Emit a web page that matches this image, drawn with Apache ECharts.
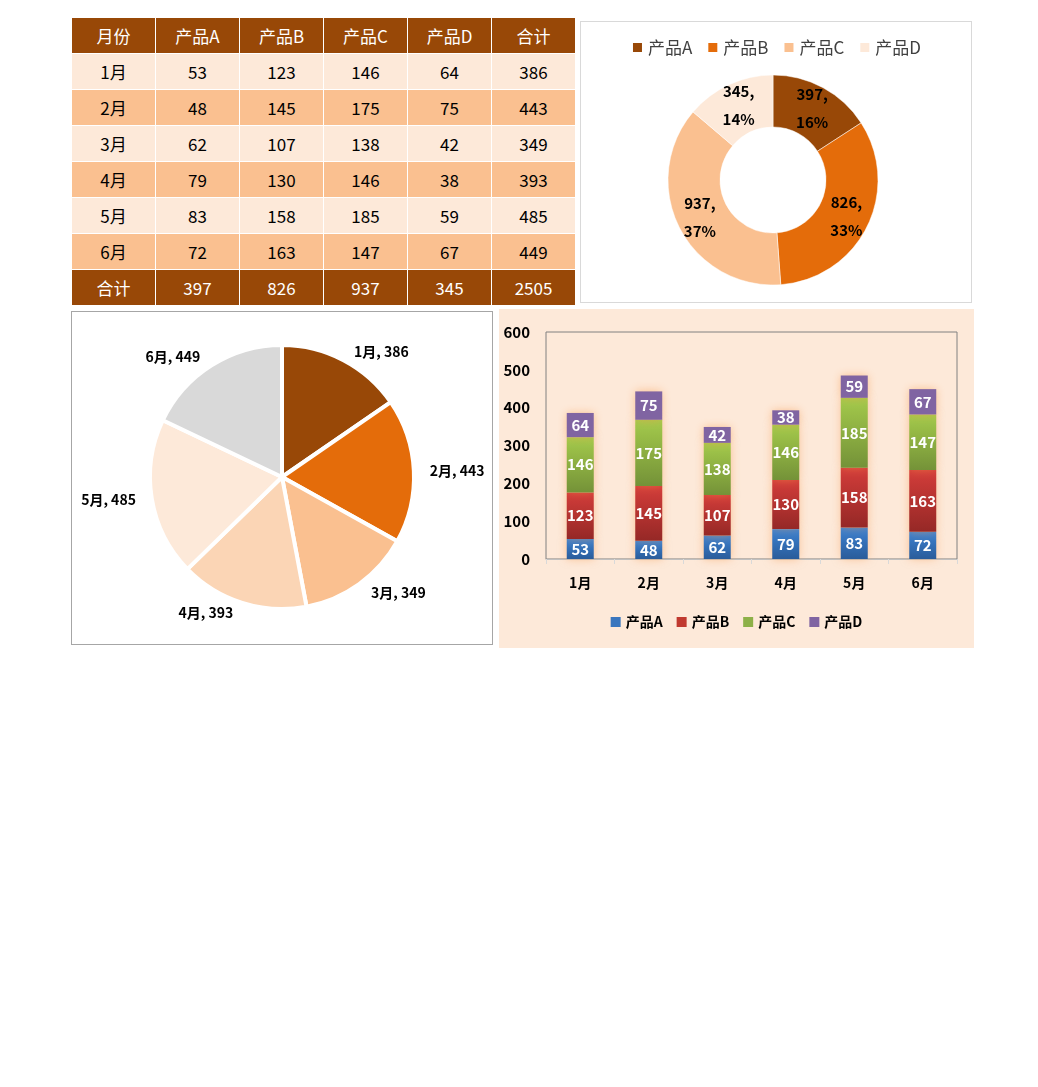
<!DOCTYPE html>
<html>
<head>
<meta charset="utf-8">
<script src="https://cdn.jsdelivr.net/npm/echarts@6/dist/echarts.min.js"></script>
<style>
  html, body { margin: 0; padding: 0; background: #fff; width: 1038px; height: 1087px; overflow: hidden; }
  #tbl { position: absolute; left: 71px; top: 17px; border-collapse: collapse; font-family: "Noto Sans CJK SC", sans-serif; font-size: 17px; }
  #tbl td { width: 83px; height: 35px; padding: 0; text-align: center; border: 1px solid #fff; color: #000; }
  #tbl tr.hd td { background: #984807; color: #fff; }
  #tbl tr.lt td { background: #FDE9D9; }
  #tbl tr.dk td { background: #FAC090; }
  .box { position: absolute; box-sizing: border-box; }
  #donut { left: 580px; top: 21px; width: 392px; height: 282px; border: 1px solid #d9d9d9; }
  #pie { left: 71px; top: 311px; width: 422px; height: 334px; border: 1px solid #a6a6a6; }
  #bar { left: 499px; top: 309px; width: 475px; height: 339px; background: #FDE9D9; }
</style>
</head>
<body>
<table id="tbl"></table>
<div id="donut" class="box"></div>
<div id="pie" class="box"></div>
<div id="bar" class="box"></div>
<script>
// ---- data ----
const months = ['1月', '2月', '3月', '4月', '5月', '6月'];
const products = ['产品A', '产品B', '产品C', '产品D'];
const prodA = [53, 48, 62, 79, 83, 72];
const prodB = [123, 145, 107, 130, 158, 163];
const prodC = [146, 175, 138, 146, 185, 147];
const prodD = [64, 75, 42, 38, 59, 67];
const monthTotals = [386, 443, 349, 393, 485, 449];
const productTotals = [397, 826, 937, 345];
const grandTotal = 2505;
const headerMonth = '月份';
const headerTotal = '合计';
const yTicks = { min: 0, max: 600, interval: 100 };

// ---- table ----
(function () {
  const tbl = document.getElementById('tbl');
  const series = [prodA, prodB, prodC, prodD];
  let html = '<tr class="hd"><td>' + headerMonth + '</td>' + products.map(p => '<td>' + p + '</td>').join('') + '<td>' + headerTotal + '</td></tr>';
  months.forEach((m, i) => {
    html += '<tr class="' + (i % 2 === 0 ? 'lt' : 'dk') + '"><td>' + m + '</td>' +
      series.map(s => '<td>' + s[i] + '</td>').join('') + '<td>' + monthTotals[i] + '</td></tr>';
  });
  html += '<tr class="hd"><td>' + headerTotal + '</td>' + productTotals.map(v => '<td>' + v + '</td>').join('') + '<td>' + grandTotal + '</td></tr>';
  tbl.innerHTML = html;
})();

const FONT = '"Noto Sans CJK SC", "Noto Sans", sans-serif';

// ---- donut ----
const donutColors = ['#984807', '#E46C0A', '#FAC090', '#FDE9D9'];
echarts.init(document.getElementById('donut')).setOption({
  animation: false,
  textStyle: { fontFamily: FONT },
  color: donutColors,
  legend: {
    top: 12, left: 'center', itemWidth: 11, itemHeight: 11, itemGap: 14,
    icon: 'rect',
    textStyle: { fontSize: 17, color: '#404040', fontFamily: FONT },
    data: products
  },
  series: [{
    type: 'pie',
    center: [192, 158],
    radius: [53, 105],
    startAngle: 90,
    clockwise: true,
    percentPrecision: 0,
    avoidLabelOverlap: false,
    itemStyle: { borderColor: '#fff', borderWidth: 0.5 },
    label: {
      position: 'inside',
      formatter: '{c},\n{d}%',
      color: '#000', fontWeight: 'bold', fontSize: 15, lineHeight: 28, fontFamily: FONT
    },
    labelLine: { show: false },
    data: products.map((p, i) => ({ name: p, value: productTotals[i] }))
  }]
});

// ---- pie ----
const pieColors = ['#984807', '#E46C0A', '#FAC090', '#FBD5B5', '#FDE9D9', '#D9D9D9'];
echarts.init(document.getElementById('pie')).setOption({
  animation: false,
  textStyle: { fontFamily: FONT },
  color: pieColors,
  series: [{
    type: 'pie',
    center: [210, 165],
    radius: [0, 132],
    startAngle: 90,
    clockwise: true,
    avoidLabelOverlap: false,
    itemStyle: { borderColor: '#fff', borderWidth: 4 },
    label: {
      position: 'outside',
      formatter: '{b}, {c}',
      color: '#000', fontWeight: 'bold', fontSize: 14, fontFamily: FONT
    },
    labelLine: { show: false, length: 10, length2: 1 },
    data: months.map((m, i) => ({ name: m, value: monthTotals[i] }))
  }]
});

// ---- stacked bar ----
function grad(top, bottom) {
  return new echarts.graphic.LinearGradient(0, 0, 0, 1, [
    { offset: 0, color: top }, { offset: 1, color: bottom }
  ]);
}
const barStyles = [
  { fill: grad('#3C82D2', '#2A5C9A'), legend: '#3A76BE' },
  { fill: grad('#D33D3A', '#952826'), legend: '#C0392F' },
  { fill: grad('#A4CA4B', '#749238'), legend: '#8DB048' },
  { fill: '#8064A2', legend: '#8064A2' }
];
const barData = [prodA, prodB, prodC, prodD];
echarts.init(document.getElementById('bar')).setOption({
  animation: false,
  textStyle: { fontFamily: FONT },
  legend: {
    bottom: 14, left: 'center', itemWidth: 10, itemHeight: 10, itemGap: 14,
    icon: 'rect',
    textStyle: { fontSize: 14, fontWeight: 'bold', color: '#000', fontFamily: FONT },
    data: products.map((p, i) => ({ name: p, itemStyle: { color: barStyles[i].legend } }))
  },
  grid: {
    left: 47, top: 23, right: 17, bottom: 89,
    show: true, borderColor: '#808080', borderWidth: 1, backgroundColor: 'transparent'
  },
  xAxis: {
    type: 'category',
    data: months,
    axisLine: { show: true, lineStyle: { color: '#bfbfbf' } },
    axisTick: { show: true, length: 5, lineStyle: { color: '#d9d9d9' } },
    axisLabel: { margin: 17, fontSize: 14, fontWeight: 'bold', color: '#000', fontFamily: FONT }
  },
  yAxis: {
    type: 'value',
    min: yTicks.min, max: yTicks.max, interval: yTicks.interval,
    axisLine: { show: false },
    axisTick: { show: false },
    splitLine: { show: false },
    axisLabel: { margin: 16, fontSize: 15, fontWeight: 'bold', color: '#000', fontFamily: FONT }
  },
  series: barData.map((d, i) => ({
    name: products[i],
    type: 'bar',
    stack: 'total',
    barWidth: 27,
    data: d,
    itemStyle: {
      color: barStyles[i].fill,
      shadowColor: 'rgba(247,150,70,0.5)', shadowBlur: 9
    },
    label: {
      show: true, position: 'inside',
      color: '#fff', fontWeight: 'bold', fontSize: 15, fontFamily: FONT
    }
  }))
});
</script>
</body>
</html>
